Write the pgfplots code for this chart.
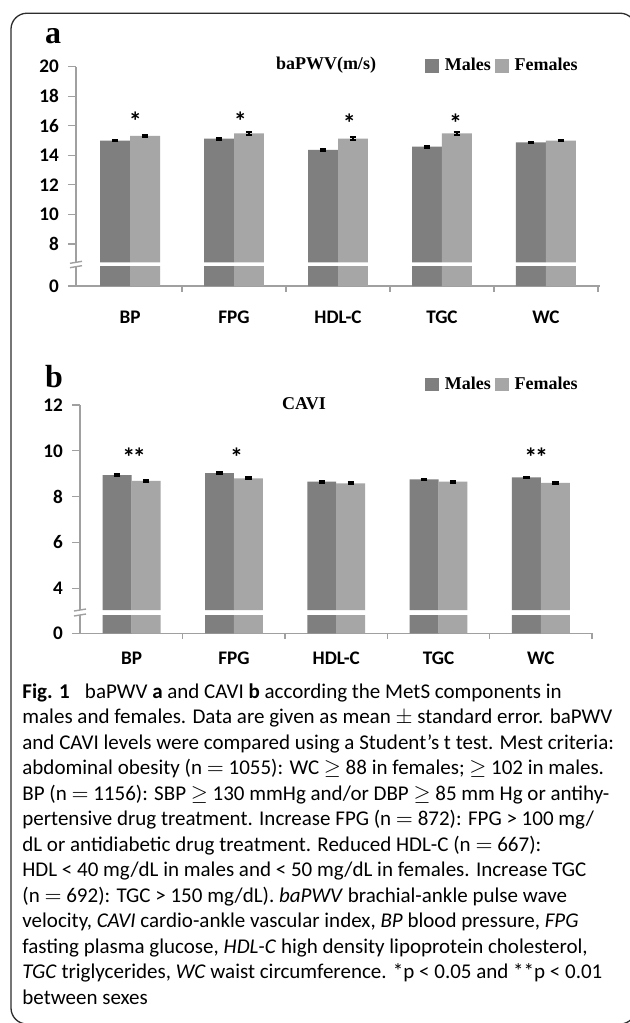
\documentclass[border=0pt]{standalone}
\usepackage{fontspec}
\usepackage{pgfplots}
\usepackage{pgfplotstable}
\pgfplotsset{compat=1.18}
\newfontfamily\carlito{Carlito}
\newfontfamily\lserif{Liberation Serif}
\definecolor{malec}{RGB}{127,127,127}
\definecolor{femc}{RGB}{166,166,166}
\definecolor{axg}{RGB}{160,160,160}
\definecolor{bord}{RGB}{45,45,45}

\pgfplotstableread{
x m mE f fE
0 15.00 0.06 15.31 0.05
1 15.13 0.07 15.49 0.08
2 14.37 0.06 15.13 0.08
3 14.59 0.07 15.49 0.10
4 14.88 0.05 15.00 0.06
}\dataA
\pgfplotstableread{
x m mE f fE
0 8.94 0.03 8.69 0.04
1 9.03 0.03 8.80 0.04
2 8.65 0.04 8.58 0.04
3 8.75 0.03 8.65 0.04
4 8.84 0.03 8.60 0.04
}\dataB

\newcommand\tickfont{\carlito\bfseries\fontsize{9.6}{10}\selectfont}
\newcommand\legfont{\lserif\bfseries\fontsize{9}{10}\selectfont}
\newcommand\astfont{\carlito\bfseries\fontsize{13}{13}\selectfont}

\pgfplotsset{
  brk/.style={
    scale only axis,
    clip mode=individual,
    ybar,
    tick align=outside,
    major tick length=4pt,
    tick style={draw=axg, line width=0.6pt},
    axis line style={draw=axg, line width=0.7pt},
    xtick style={draw=none},
    yticklabel style={font=\tickfont, xshift=-1pt},
    xticklabel style={font=\tickfont},
    /pgf/number format/assume math mode=true,
  },
  mbar/.style={fill=malec, draw=none},
  fbar/.style={fill=femc, draw=none},
  ebar/.style={/pgfplots/error bars/.cd, y dir=both, y explicit,
    error bar style={black, line width=0.9pt},
    error mark options={rotate=90, black, line width=1pt, mark size=1.6pt},
    /pgfplots/.cd},
  legsty/.style={legend style={draw=none, fill=none, inner sep=0pt,
    legend columns=2, font=\legfont,
    /tikz/every even column/.append style={column sep=0pt},
    /tikz/every odd column/.append style={column sep=1pt}}},
}

\begin{document}
\begin{tikzpicture}
\path[use as bounding box] (0,0) rectangle (314.5pt,-511.5pt);
\fill[white] (0,0) rectangle (314.5pt,-511.5pt);
\draw[bord, line width=0.65pt, rounded corners=8pt] (5.5pt,-6.6pt) rectangle (318pt,-512pt);

% ---------------- panel a ----------------
\node[font=\lserif\bfseries\fontsize{16}{16}\selectfont] at (26.5pt,-18pt) {a};
\node[font=\legfont] at (163pt,-32.5pt) {baPWV(m/s)};

\begin{axis}[brk, legsty, at={(38pt,-131.15pt)}, anchor=south west,
  width=262pt, height=97.8pt,
  xmin=-0.52, xmax=4.52, ymin=6.76, ymax=20,
  axis x line=none, axis y line*=left,
  ytick={8,10,...,20}, bar width=0.288,
  legend style={at={(0.666,1.006)}, anchor=west}]
\addlegendimage{legend image code/.code={\fill[malec] (0pt,-3.2pt) rectangle (6.4pt,3.2pt);}}
\addlegendentry{Males}
\addlegendimage{legend image code/.code={\fill[femc] (0pt,-3.2pt) rectangle (6.4pt,3.2pt);}}
\addlegendentry{Females}
\addplot[forget plot, mbar, bar shift=-0.144, ebar] table[x=x, y=m, y error=mE] {\dataA};
\addplot[forget plot, fbar, bar shift=0.144, ebar] table[x=x, y=f, y error=fE] {\dataA};
\draw[axg, line width=0.7pt] (rel axis cs:0,0) ++(-3pt,-0.5pt) -- ++(6pt,1pt);
\node[font=\astfont, yshift=-3pt] at (axis cs:0.05,16.73) {*};
\node[font=\astfont, yshift=-3pt] at (axis cs:1.06,16.73) {*};
\node[font=\astfont, yshift=-3pt] at (axis cs:2.11,16.58) {*};
\node[font=\astfont, yshift=-3pt] at (axis cs:3.13,16.58) {*};
\end{axis}

\begin{axis}[brk, at={(38pt,-143pt)}, anchor=south west,
  width=262pt, height=9.65pt,
  xmin=-0.52, xmax=4.52, ymin=0, ymax=1.3,
  axis x line*=bottom, axis y line*=left,
  ytick={0}, bar width=0.288,
  xtick={0,1,2,3,4}, xticklabels={BP,FPG,HDL-C,TGC,WC},
  xticklabel style={yshift=-5pt}]
\addplot[mbar, bar shift=-0.144] table[x=x, y=m] {\dataA};
\addplot[fbar, bar shift=0.144] table[x=x, y=f] {\dataA};
\draw[axg, line width=0.7pt] (rel axis cs:0,1) ++(-3pt,-0.5pt) -- ++(6pt,1pt);
\pgfplotsinvokeforeach{0.5,1.5,2.5,3.5,4.5}{\draw[axg, line width=0.6pt] (axis cs:#1,0) -- ++(0pt,-3pt);}
\end{axis}

% ---------------- panel b ----------------
\node[font=\lserif\bfseries\fontsize{16}{16}\selectfont] at (27pt,-188.4pt) {b};
\node[font=\legfont] at (152pt,-202pt) {CAVI};

\begin{axis}[brk, legsty, at={(40pt,-305pt)}, anchor=south west,
  width=256.5pt, height=102.5pt,
  xmin=-0.505, xmax=4.51, ymin=3.05, ymax=12,
  axis x line=none, axis y line*=left,
  ytick={4,6,...,12}, bar width=0.283,
  legend style={at={(0.6725,1.101)}, anchor=west}]
\addlegendimage{legend image code/.code={\fill[malec] (0pt,-3.2pt) rectangle (6.4pt,3.2pt);}}
\addlegendentry{Males}
\addlegendimage{legend image code/.code={\fill[femc] (0pt,-3.2pt) rectangle (6.4pt,3.2pt);}}
\addlegendentry{Females}
\addplot[forget plot, mbar, bar shift=-0.1415, ebar] table[x=x, y=m, y error=mE] {\dataB};
\addplot[forget plot, fbar, bar shift=0.1415, ebar] table[x=x, y=f, y error=fE] {\dataB};
\draw[axg, line width=0.7pt] (rel axis cs:0,0) ++(-3pt,-0.5pt) -- ++(6pt,1pt);
\node[font=\astfont, yshift=-3pt] at (axis cs:0.023,10.0) {*\kern-1.2pt*};
\node[font=\astfont, yshift=-3pt] at (axis cs:1.027,10.0) {*};
\node[font=\astfont, yshift=-3pt] at (axis cs:3.955,10.0) {*\kern-1.2pt*};
\end{axis}

\begin{axis}[brk, at={(40pt,-316.65pt)}, anchor=south west,
  width=256.5pt, height=9.15pt,
  xmin=-0.505, xmax=4.51, ymin=0, ymax=0.8,
  axis x line*=bottom, axis y line*=left,
  ytick={0}, bar width=0.283,
  xtick={0,1,2,3,4}, xticklabels={BP,FPG,HDL-C,TGC,WC},
  xticklabel style={yshift=-2pt}]
\addplot[mbar, bar shift=-0.1415] table[x=x, y=m] {\dataB};
\addplot[fbar, bar shift=0.1415] table[x=x, y=f] {\dataB};
\draw[axg, line width=0.7pt] (rel axis cs:0,1) ++(-3pt,-0.5pt) -- ++(6pt,1pt);
\pgfplotsinvokeforeach{0.5,1.5,2.5,3.5,4.5}{\draw[axg, line width=0.6pt] (axis cs:#1,0) -- ++(0pt,-3pt);}
\end{axis}

% ---------------- caption ----------------
\node[anchor=north west, inner sep=0pt, align=left,
  font=\carlito\fontsize{10.5}{12.75}\selectfont] at (11pt,-341.5pt) {%
\textbf{Fig. 1}\hspace{0.5em} baPWV \textbf{a} and CAVI \textbf{b} according the MetS components in\\
males and females. Data are given as mean $\pm$ standard error. baPWV\\
and CAVI levels were compared using a Student’s t test. Mest criteria:\\
abdominal obesity (n $=$ 1055): WC $\geq$ 88 in females; $\geq$ 102 in males.\\
BP (n $=$ 1156): SBP $\geq$ 130 mmHg and/or DBP $\geq$ 85 mm Hg or antihy-\\
pertensive drug treatment. Increase FPG (n $=$ 872): FPG > 100 mg/\\
dL or antidiabetic drug treatment. Reduced HDL-C (n $=$ 667):\\
HDL < 40 mg/dL in males and < 50 mg/dL in females. Increase TGC\\
(n $=$ 692): TGC > 150 mg/dL). \textit{baPWV} brachial-ankle pulse wave\\
velocity, \textit{CAVI} cardio-ankle vascular index, \textit{BP} blood pressure, \textit{FPG}\\
fasting plasma glucose, \textit{HDL-C} high density lipoprotein cholesterol,\\
\textit{TGC} triglycerides, \textit{WC} waist circumference. *p < 0.05 and **p < 0.01\\
between sexes};
\end{tikzpicture}
\end{document}
